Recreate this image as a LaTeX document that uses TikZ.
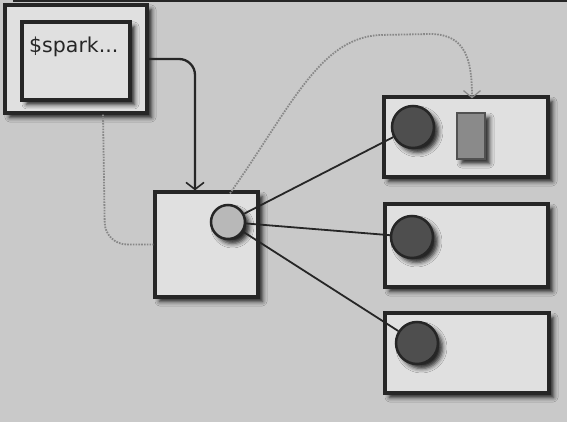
\documentclass[tikz,border=0pt]{standalone}
\usepackage{fontspec}
\newfontfamily\handfont{DejaVu Sans}
\usetikzlibrary{arrows.meta,shadows.blur}
\definecolor{paper}{HTML}{C9C9C9}
\definecolor{boxfill}{HTML}{E0E0E0}
\definecolor{ink}{HTML}{262626}
\definecolor{dotgray}{HTML}{888888}
\definecolor{darkdot}{HTML}{4E4E4E}
\definecolor{lightdot}{HTML}{B8B8B8}
\definecolor{rectfill}{HTML}{8A8A8A}
\begin{document}
\begin{tikzpicture}[x=1pt,y=-1pt,
  shad/.style={blur shadow={shadow xshift=4.5pt,shadow yshift=-4.5pt,shadow blur radius=4.5pt,shadow opacity=85}},
  box/.style={draw=ink,line width=3.2pt,fill=boxfill,shad,inner sep=0pt},
  dball/.style={circle,draw=ink,line width=2.5pt,fill=darkdot,shad,inner sep=0pt,minimum size=42pt},
  lball/.style={circle,draw=ink,line width=2.5pt,fill=lightdot,shad,inner sep=0pt,minimum size=34pt},
  slab/.style={draw=ink!80,line width=1.5pt,fill=rectfill,shad,inner sep=0pt},
  conn/.style={draw=ink,line width=2.3pt,-{Straight Barb[length=7pt,width=18pt,line width=1.6pt]}},
  link/.style={draw=ink,line width=1.8pt},
  dotline/.style={draw=dotgray,line width=1.8pt,dash pattern=on 1.6pt off 1.2pt},
  dotarrow/.style={dotline,-{Straight Barb[length=7pt,width=17pt,line width=1.2pt]}}
]
\useasboundingbox (0,0) rectangle (567,422);
\fill[paper] (0,0) rectangle (567,422);
\fill[ink] (13,0) rectangle (567,2.5);

% console and shell
\node[box,minimum width=142pt,minimum height=108pt] (console) at (76,59) {};
\node[box,minimum width=108pt,minimum height=78pt] (shell) at (76,61) {};
\node[anchor=base west,inner sep=0pt,text=ink] (cmd) at (29,53) {\handfont\fontsize{20.5}{24}\selectfont \$spark...};

% driver
\node[box,minimum width=103pt,minimum height=105pt] (driver) at (206.5,244.5) {};
\node[lball] (dcirc) at (228,222) {};

% workers
\node[box,minimum width=164pt,minimum height=80pt] (w1) at (466,137) {};
\node[dball] (c1) at (413,127) {};
\node[slab,minimum width=28pt,minimum height=46pt] (r1) at (471,136) {};

\node[box,minimum width=163pt,minimum height=83pt] (w2) at (466.5,245.5) {};
\node[dball] (c2) at (412,237) {};

\node[box,minimum width=164pt,minimum height=80pt] (w3) at (467,353) {};
\node[dball] (c3) at (417,343) {};

% connectors
\draw[conn,rounded corners=16pt] (console.east) -| ([xshift=-11.5pt]driver.north);

\coordinate (bend1) at (105,244.5);
\draw[dotline,rounded corners=22pt] ([xshift=27pt]console.south) -- (bend1) -- (driver.west);

\coordinate (top1) at (380,35);
\coordinate (top2) at (430,34);
\draw[dotarrow] ([xshift=23.5pt,yshift=-3pt]driver.north) .. controls (292,105) and (320,38) .. (top1)
  -- (top2) .. controls (466,34) and (472,60) .. ([xshift=6pt,yshift=-3pt]w1.north);

\draw[link] (dcirc) -- (c1);
\draw[link] (dcirc) -- (c2);
\draw[link] (dcirc) -- (c3);
\end{tikzpicture}
\end{document}
